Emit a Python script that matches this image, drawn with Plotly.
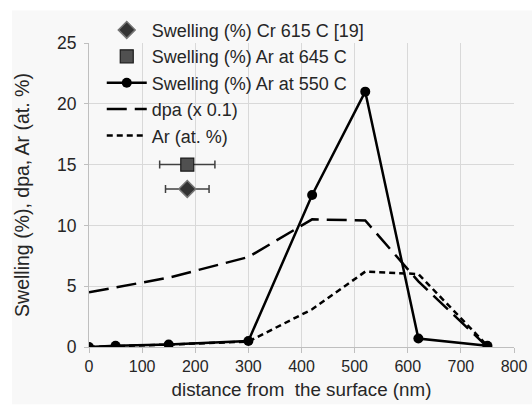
import plotly.graph_objects as go

# Depth below the irradiated surface (nm)
depth = [0, 50, 150, 300, 420, 520, 620, 750]

# Measured swelling, Ar implanted at 550 C (%)
swelling_550 = [0.0, 0.1, 0.2, 0.5, 12.5, 21.0, 0.7, 0.1]

# SRIM damage profile, scaled by 0.1
dpa_scaled = [4.5, 4.9, 5.7, 7.4, 10.5, 10.4, 5.4, 0.0]

# Implanted Ar concentration (at. %)
ar_conc = [0.0, 0.05, 0.2, 0.45, 3.1, 6.2, 6.0, 0.1]

# Single averaged points with depth range
cr_615_depth = [185]
cr_615_swelling = [13.0]
cr_615_err = [41]

ar_645_depth = [185]
ar_645_swelling = [15.0]
ar_645_err = [52]

x_ticks = [0, 100, 200, 300, 400, 500, 600, 700, 800]
y_ticks = [0, 5, 10, 15, 20, 25]

FONT = "Liberation Sans, Arial, sans-serif"
TEXT = "#262626"
GRID = "#d9d9d9"

fig = go.Figure()

fig.add_trace(go.Scatter(
    x=cr_615_depth, y=cr_615_swelling, mode="markers",
    name="Swelling (%) Cr 615 C [19]",
    marker=dict(symbol="diamond", size=13, color="#333333",
                line=dict(color="#777777", width=1.5)),
    error_x=dict(type="data", array=cr_615_err, color="#404040",
                 thickness=1.5, width=4),
))

fig.add_trace(go.Scatter(
    x=ar_645_depth, y=ar_645_swelling, mode="markers",
    name="Swelling (%) Ar at 645 C",
    marker=dict(symbol="square", size=13, color="#505050",
                line=dict(color="#1a1a1a", width=1.2)),
    error_x=dict(type="data", array=ar_645_err, color="#404040",
                 thickness=1.5, width=4),
))

fig.add_trace(go.Scatter(
    x=depth, y=swelling_550, mode="lines+markers",
    name="Swelling (%) Ar at 550 C",
    line=dict(color="black", width=2.5),
    marker=dict(symbol="circle", size=10, color="black"),
))

fig.add_trace(go.Scatter(
    x=depth, y=dpa_scaled, mode="lines",
    name="dpa (x 0.1)",
    line=dict(color="black", width=2.5, dash="20px,8px"),
))

fig.add_trace(go.Scatter(
    x=depth, y=ar_conc, mode="lines",
    name="Ar (at. %)",
    line=dict(color="black", width=2.5, dash="6px,4px"),
))

fig.update_layout(
    width=532, height=405,
    margin=dict(l=89, r=18, t=38, b=58),
    paper_bgcolor="white",
    plot_bgcolor="#f8f8f8",
    font=dict(family=FONT, color=TEXT, size=16),
    showlegend=True,
    legend=dict(
        x=0.03, y=1.103, xanchor="left", yanchor="top",
        bgcolor="rgba(0,0,0,0)",
        font=dict(family=FONT, size=18, color=TEXT),
        itemwidth=40, tracegroupgap=0,
    ),
    shapes=[dict(
        type="rect", xref="paper", yref="paper", layer="below",
        x0=-77 / 425, x1=1 + 18 / 425,
        y0=-58 / 308.5, y1=1 + 33 / 308.5,
        fillcolor="#f8f8f8", line=dict(width=0),
    )],
)

fig.update_xaxes(
    range=[0, 800], tickvals=x_ticks, automargin=False,
    showgrid=True, gridcolor=GRID, gridwidth=1,
    showline=True, linecolor="#bfbfbf", linewidth=1,
    ticks="outside", ticklen=5, tickcolor="#bfbfbf",
    zeroline=False,
    tickfont=dict(size=16, color=TEXT),
    title=dict(text="distance from  the surface (nm)",
               font=dict(size=18.8, color=TEXT), standoff=8),
)

fig.update_yaxes(
    range=[0, 25], tickvals=y_ticks, automargin=False,
    showgrid=True, gridcolor=GRID, gridwidth=1,
    showline=True, linecolor="#bfbfbf", linewidth=1,
    ticks="outside", ticklen=4, tickcolor="#bfbfbf",
    zeroline=False, ticklabelstandoff=4,
    tickfont=dict(size=17.5, color=TEXT),
    title=dict(text="Swelling (%), dpa, Ar (at. %)",
               font=dict(size=19.5, color=TEXT), standoff=22),
)

fig.write_html("out.html")
